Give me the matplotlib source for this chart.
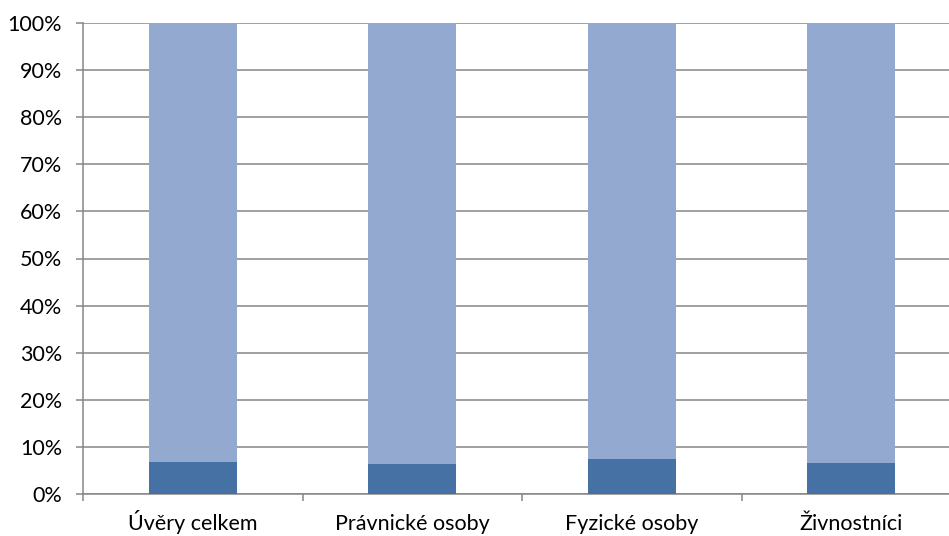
import matplotlib.pyplot as plt
from matplotlib.ticker import PercentFormatter

categories = ['Úvěry celkem', 'Právnické osoby', 'Fyzické osoby', 'Živnostníci']
dark_share = [6.8, 6.4, 7.4, 6.6]
light_share = [100 - v for v in dark_share]

plt.rcParams['font.family'] = ['Lato', 'DejaVu Sans']

fig = plt.figure(figsize=(9.49, 5.36), dpi=100)
ax = fig.add_axes([83 / 949, 42 / 536, 878 / 949, 471 / 536])

x = range(len(categories))
ax.bar(x, dark_share, width=0.4, color='#4571A5', zorder=3)
ax.bar(x, light_share, width=0.4, bottom=dark_share, color='#93A9D0', zorder=3)

ax.set_xlim(-0.5, len(categories) - 0.5)
ax.set_ylim(0, 100)
ax.set_yticks(range(0, 101, 10))
ax.yaxis.set_major_formatter(PercentFormatter(decimals=0))
ax.yaxis.grid(True, color='#868686', linewidth=1.1, zorder=0)

ax.set_xticks(list(x))
ax.set_xticklabels(categories, va='baseline')
ax.set_xticks([i + 0.5 for i in range(len(categories) - 1)] + [-0.5], minor=True)
ax.tick_params(axis='x', which='major', length=0, pad=26, labelsize=15.5)
ax.tick_params(axis='x', which='minor', length=5, width=1.1, color='#868686', direction='out')
ax.tick_params(axis='y', length=5, width=1.1, color='#868686', labelsize=15.5, pad=10)

for side in ['top', 'right']:
    ax.spines[side].set_visible(False)
for side in ['left', 'bottom']:
    ax.spines[side].set_color('#868686')
    ax.spines[side].set_linewidth(1.1)

fig.savefig('out.png', dpi=100)
